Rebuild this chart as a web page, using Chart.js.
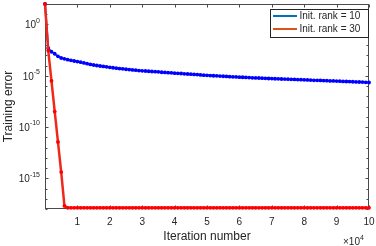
<!DOCTYPE html>
<html><head><meta charset="utf-8">
<script src="https://cdn.jsdelivr.net/npm/chart.js@4.4.0/dist/chart.umd.min.js"></script>
<style>html,body{margin:0;padding:0;background:#fff}#wrap{width:376px;height:246px}</style>
</head><body><div id="wrap"><canvas id="c" width="376" height="246"></canvas></div>
<script>
// iterations, in thousands
const iterK = [0,1,2,3,4,5,6,7,8,9,10,11,12,13,14,15,16,17,18,19,20,21,22,23,24,25,26,27,28,29,30,31,32,33,34,35,36,37,38,39,40,41,42,43,44,45,46,47,48,49,50,51,52,53,54,55,56,57,58,59,60,61,62,63,64,65,66,67,68,69,70,71,72,73,74,75,76,77,78,79,80,81,82,83,84,85,86,87,88,89,90,91,92,93,94,95,96,97,98,99,100];
const seriesNames = ['Init. rank = 10', 'Init. rank = 30'];
const blueErr = [
1e2, 5.0e-3, 2.2e-3, 1.4e-3, 7.9e-4, 5.4e-4, 4.5e-4, 3.7e-4, 3.2e-4, 2.75e-4,
2.4e-4, 2.1e-4, 1.8e-4, 1.5e-4, 1.26e-4, 1.12e-4, 1.0e-4, 8.9e-5, 8.1e-5, 7.4e-5,
6.6e-5, 6.0e-5, 5.5e-5, 5.0e-5, 4.7e-5, 4.3e-5, 4.0e-5, 3.7e-5, 3.5e-5, 3.2e-5,
3.0e-5, 2.9e-5, 2.75e-5, 2.6e-5, 2.5e-5, 2.4e-5, 2.2e-5, 2.1e-5, 2.0e-5, 1.95e-5,
1.8e-5, 1.74e-5, 1.66e-5, 1.55e-5, 1.48e-5, 1.41e-5, 1.35e-5, 1.29e-5, 1.2e-5, 1.15e-5,
1.1e-5, 1.05e-5, 1.0e-5, 9.8e-6, 9.3e-6, 8.9e-6, 8.5e-6, 8.1e-6, 7.9e-6, 7.6e-6,
7.2e-6, 7.1e-6, 6.8e-6, 6.6e-6, 6.3e-6, 6.2e-6, 6.0e-6, 5.8e-6, 5.6e-6, 5.4e-6,
5.25e-6, 5.1e-6, 5.0e-6, 4.8e-6, 4.7e-6, 4.6e-6, 4.5e-6, 4.4e-6, 4.2e-6, 4.1e-6,
4.0e-6, 3.9e-6, 3.8e-6, 3.6e-6, 3.55e-6, 3.5e-6, 3.4e-6, 3.3e-6, 3.16e-6, 3.1e-6,
3.0e-6, 2.95e-6, 2.8e-6, 2.75e-6, 2.7e-6, 2.6e-6, 2.5e-6, 2.45e-6, 2.4e-6, 2.3e-6,
2.2e-6];
const redErr = [
1e2, 2.9e-3, 3.2e-6, 3.2e-9, 3.5e-12, 4e-15, 2e-18, 1.3e-18, 1.3e-18, 1.3e-18,
1.3e-18, 1.3e-18, 1.3e-18, 1.3e-18, 1.3e-18, 1.3e-18, 1.3e-18, 1.3e-18, 1.3e-18, 1.3e-18,
1.3e-18, 1.3e-18, 1.3e-18, 1.3e-18, 1.3e-18, 1.3e-18, 1.3e-18, 1.3e-18, 1.3e-18, 1.3e-18,
1.3e-18, 1.3e-18, 1.3e-18, 1.3e-18, 1.3e-18, 1.3e-18, 1.3e-18, 1.3e-18, 1.3e-18, 1.3e-18,
1.3e-18, 1.3e-18, 1.3e-18, 1.3e-18, 1.3e-18, 1.3e-18, 1.3e-18, 1.3e-18, 1.3e-18, 1.3e-18,
1.3e-18, 1.3e-18, 1.3e-18, 1.3e-18, 1.3e-18, 1.3e-18, 1.3e-18, 1.3e-18, 1.3e-18, 1.3e-18,
1.3e-18, 1.3e-18, 1.3e-18, 1.3e-18, 1.3e-18, 1.3e-18, 1.3e-18, 1.3e-18, 1.3e-18, 1.3e-18,
1.3e-18, 1.3e-18, 1.3e-18, 1.3e-18, 1.3e-18, 1.3e-18, 1.3e-18, 1.3e-18, 1.3e-18, 1.3e-18,
1.3e-18, 1.3e-18, 1.3e-18, 1.3e-18, 1.3e-18, 1.3e-18, 1.3e-18, 1.3e-18, 1.3e-18, 1.3e-18,
1.3e-18, 1.3e-18, 1.3e-18, 1.3e-18, 1.3e-18, 1.3e-18, 1.3e-18, 1.3e-18, 1.3e-18, 1.3e-18,
1.3e-18];
const xTickValues = [0,10,20,30,40,50,60,70,80,90,100];
const yDecades = [2,1,0,-1,-2,-3,-4,-5,-6,-7,-8,-9,-10,-11,-12,-13,-14,-15,-16,-17,-18];
const yLabelExps = [0,-5,-10,-15];
const xMultiplierExp = '4';

const FONT = "'Liberation Sans', Arial, Helvetica, sans-serif";
const TXT = '#262626';
const AX = '#4a4a4a';

const toPts = arr => iterK.map((k, i) => ({x: k, y: arr[i]}));

const decor = {
  id: 'decor',
  beforeDatasetsDraw(chart) {
    const {ctx, chartArea: a, scales: {x, y}} = chart;
    const L = Math.round(a.left) + 0.5, R = Math.round(a.right) - 0.5;
    const T = Math.round(a.top) + 0.5, B = Math.round(a.bottom) - 0.5;
    ctx.save();
    ctx.strokeStyle = AX; ctx.lineWidth = 1;
    ctx.strokeRect(L, T, R - L, B - T);
    ctx.beginPath();
    xTickValues.forEach(v => {
      const px = Math.round(x.getPixelForValue(v)) + 0.5;
      ctx.moveTo(px, B); ctx.lineTo(px, B - 3);
      ctx.moveTo(px, T); ctx.lineTo(px, T + 3);
    });
    yDecades.forEach(e => {
      const py = Math.round(y.getPixelForValue(Math.pow(10, e))) + 0.5;
      const len = (e % 5 === 0) ? 3 : 2;
      ctx.moveTo(L, py); ctx.lineTo(L + len, py);
      ctx.moveTo(R, py); ctx.lineTo(R - len, py);
    });
    ctx.stroke();
    ctx.restore();
  },
  afterDraw(chart) {
    const {ctx, chartArea: a, scales: {x, y}} = chart;
    ctx.save();
    ctx.fillStyle = TXT;
    // y tick labels 10^e
    const rightEdge = a.left - 5;
    yLabelExps.forEach(e => {
      const py = y.getPixelForValue(Math.pow(10, e));
      const ex = String(e);
      ctx.font = '7px ' + FONT;
      const ew = ctx.measureText(ex).width;
      ctx.textAlign = 'left'; ctx.textBaseline = 'middle';
      ctx.fillText(ex, rightEdge - ew, py - 3.5);
      ctx.font = '10px ' + FONT;
      ctx.textAlign = 'right';
      ctx.fillText('10', rightEdge - ew, py + 1);
    });
    // x multiplier
    ctx.font = '10px ' + FONT;
    ctx.textAlign = 'left'; ctx.textBaseline = 'alphabetic';
    ctx.fillText('\u00d710', 343, 244.5);
    const w = ctx.measureText('\u00d710').width;
    ctx.font = '7px ' + FONT;
    ctx.fillText(xMultiplierExp, 343 + w, 239.5);
    // legend
    const lx = 270.5, ly = 9.5, lw = 98, lh = 28;
    ctx.fillStyle = '#fff';
    ctx.fillRect(lx, ly, lw, lh);
    ctx.strokeStyle = '#262626'; ctx.lineWidth = 1;
    ctx.strokeRect(lx, ly, lw, lh);
    const legCols = ['#0072BD', '#D95319'];
    const rowsY = [16, 29];
    seriesNames.forEach((name, i) => {
      ctx.strokeStyle = legCols[i]; ctx.lineWidth = 2;
      ctx.beginPath(); ctx.moveTo(273, rowsY[i]); ctx.lineTo(297, rowsY[i]); ctx.stroke();
      ctx.fillStyle = TXT; ctx.font = '10px ' + FONT;
      ctx.textAlign = 'left'; ctx.textBaseline = 'middle';
      ctx.fillText(name, 299.5, rowsY[i] + 0.5);
    });
    ctx.restore();
  }
};

new Chart(document.getElementById('c'), {
  type: 'line',
  data: {
    datasets: [
      {label: seriesNames[1], data: toPts(redErr), borderColor: '#F0281A', borderWidth: 2.5,
       pointRadius: 1.9, pointBackgroundColor: '#FF0000', pointBorderWidth: 0, pointHoverRadius: 0,
       order: 0, clip: 3, tension: 0},
      {label: seriesNames[0], data: toPts(blueErr), borderColor: '#2050E0', borderWidth: 2,
       pointRadius: 1.9, pointBackgroundColor: '#0000FF', pointBorderWidth: 0, pointHoverRadius: 0,
       order: 1, clip: 3, tension: 0}
    ]
  },
  options: {
    responsive: false, animation: false, devicePixelRatio: 1,
    layout: {padding: {left: 0, right: 7, top: 4, bottom: 0}},
    plugins: {legend: {display: false}, tooltip: {enabled: false}},
    scales: {
      x: {
        type: 'linear', min: 0, max: 100, position: 'bottom',
        grid: {display: false, drawTicks: false}, border: {display: false},
        afterBuildTicks: s => { s.ticks = xTickValues.map(v => ({value: v})); },
        afterFit: s => { s.height = 37; s.paddingRight = 0; s.paddingLeft = 0; },
        ticks: {autoSkip: false, maxRotation: 0, padding: 7, color: TXT,
                font: {family: FONT, size: 10},
                callback: v => v === 0 ? '' : String(v / 10)},
        title: {display: true, text: 'Iteration number', color: TXT,
                font: {family: FONT, size: 12}, padding: {top: 0, bottom: 2}}
      },
      y: {
        type: 'logarithmic', min: 1e-18, max: 1e2,
        grid: {display: false, drawTicks: false}, border: {display: false},
        afterBuildTicks: s => { s.ticks = yDecades.map(e => ({value: Math.pow(10, e)})); },
        afterFit: s => { s.width = 45; s.paddingTop = 0; s.paddingBottom = 0; },
        ticks: {display: false},
        title: {display: true, text: 'Training error', color: TXT,
                font: {family: FONT, size: 12}, padding: {top: 1, bottom: 0}}
      }
    }
  },
  plugins: [decor]
});
</script>
</body></html>
